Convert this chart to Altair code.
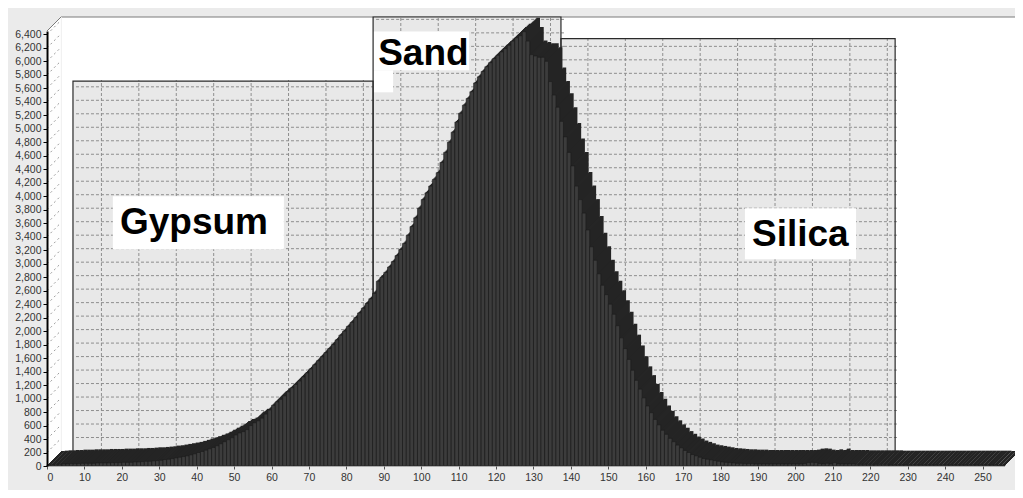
import altair as alt
import pandas as pd

# ---------------- data ----------------
levels = list(range(256))
counts = [
    15, 20, 25, 25, 30, 30, 35, 35, 35, 40,
    40, 40, 40, 45, 45, 45, 45, 50, 50, 50,
    55, 55, 55, 60, 60, 65, 70, 70, 75, 80,
    85, 95, 100, 110, 120, 130, 140, 150, 165, 180,
    200, 215, 235, 255, 275, 300, 330, 360, 390, 420,
    460, 490, 510, 540, 600, 640, 670, 710, 770, 830,
    900, 950, 990, 1040, 1100, 1160, 1210, 1260, 1320, 1380,
    1440, 1500, 1560, 1620, 1680, 1740, 1800, 1870, 1940, 2000,
    2070, 2130, 2200, 2270, 2340, 2410, 2480, 2560, 2740, 2800,
    2870, 2950, 3030, 3120, 3210, 3300, 3420, 3550, 3680, 3820,
    3950, 4050, 4150, 4250, 4350, 4500, 4650, 4800, 4950, 5100,
    5230, 5350, 5450, 5550, 5680, 5770, 5850, 5920, 5980, 6040,
    6090, 6140, 6190, 6240, 6300, 6350, 6380, 6440, 6300, 6100,
    6080, 6060, 6060, 6000, 5700, 5500, 5320, 5110, 4880, 4650,
    4450, 4150, 3950, 3750, 3500, 3250, 3050, 2850, 2680, 2540,
    2400, 2250, 2080, 1900, 1740, 1580, 1420, 1270, 1140, 1010,
    890, 790, 690, 610, 530, 470, 410, 360, 310, 270,
    230, 200, 170, 150, 130, 110, 100, 90, 80, 70,
    60, 55, 50, 45, 40, 40, 35, 35, 35, 30,
    30, 30, 30, 30, 30, 30, 30, 30, 30, 30,
    30, 30, 35, 50, 55, 50, 35, 30, 40, 30,
    50, 30, 30, 30, 30, 30, 25, 25, 25, 25,
    25, 25, 25, 25, 25, 20, 20, 20, 20, 20,
    20, 20, 20, 20, 20, 20, 20, 20, 20, 20,
    20, 20, 20, 20, 20, 20, 20, 20, 20, 20,
    20, 20, 20, 20, 15, 15,
]

region_names = ["Gypsum", "Sand", "Silica"]
region_start = [3.2, 83.4, 133.6]
region_end = [83.4, 133.6, 222.9]
region_top = [5500, 6450, 6130]

label_text = ["Gypsum", "Sand", "Silica"]
label_x = [19.5, 88.5, 188.4]
label_y = [3437, 5941, 3259]

label_bg_x = [17.6, 87.1, 87.1, 186.5]
label_bg_x2 = [63.3, 112.8, 92.5, 216.2]
label_bg_y = [3215, 5867, 5541, 3067]
label_bg_y2 = [4000, 6444, 5867, 3822]

y_ticks = list(range(0, 6401, 200))
x_ticks = list(range(0, 251, 10))

X_DOMAIN = [0, 256]
Y_DOMAIN = [0, 6450]
DEPTH = 14  # pixel depth of the 3D effect

# ---------------- tables ----------------
bars = pd.DataFrame({"x": levels, "x2": [v + 1 for v in levels], "y": counts, "y2": [0] * len(levels)})
wall = pd.DataFrame({"x": [X_DOMAIN[0]], "x2": [X_DOMAIN[1]], "y": [Y_DOMAIN[0]], "y2": [Y_DOMAIN[1]]})
regions = pd.DataFrame({"name": region_names, "x": region_start, "x2": region_end,
                        "y": [0] * 3, "y2": region_top})
grid_rows = []
for s, e, t in zip(region_start, region_end, region_top):
    for yt in y_ticks:
        if 0 < yt < t:
            grid_rows.append({"x": s, "x2": e, "y": yt, "y2": yt})
    for xt in x_ticks:
        if s < xt < e:
            grid_rows.append({"x": xt, "x2": xt, "y": 0, "y2": t})
grid = pd.DataFrame(grid_rows)
side_ticks = pd.DataFrame({"x": [0] * len(y_ticks), "x2": [0] * len(y_ticks), "y": y_ticks, "y2": y_ticks})
top_edge = pd.DataFrame({"x": [0], "x2": [0], "y": [Y_DOMAIN[1]], "y2": [Y_DOMAIN[1]]})
left_edge = pd.DataFrame({"x": [0], "x2": [0], "y": [Y_DOMAIN[0]], "y2": [Y_DOMAIN[1]]})
labels = pd.DataFrame({"text": label_text, "x": label_x, "y": label_y})
label_bgs = pd.DataFrame({"x": label_bg_x, "x2": label_bg_x2, "y": label_bg_y, "y2": label_bg_y2})

xs = alt.Scale(domain=X_DOMAIN, nice=False, zero=False)
ys = alt.Scale(domain=Y_DOMAIN, nice=False, zero=False)

x_axis = alt.Axis(values=x_ticks, title=None, grid=False, domain=False, tickSize=3,
                  tickColor="#555", labelPadding=3, labelFontSize=10.5,
                  labelFont="Liberation Sans", labelColor="#333", zindex=1,
                  labelExpr="format(datum.value, 'd')")
y_axis = alt.Axis(values=y_ticks, title=None, grid=False, domain=True,
                  domainColor="#000", domainWidth=2, tickColor="#000", tickSize=4,
                  labelPadding=2, labelFontSize=10.5, labelFont="Liberation Sans",
                  labelColor="#333", zindex=1,
                  labelExpr="format(datum.value, ',')")


def off(k):
    return dict(xOffset=k, x2Offset=k, yOffset=-k, y2Offset=-k)


def pos():
    return dict(
        x=alt.X("x", type="quantitative", scale=xs, axis=x_axis),
        x2=alt.X2("x2"),
        y=alt.Y("y", type="quantitative", scale=ys, axis=y_axis),
        y2=alt.Y2("y2"),
    )


layers = []

# back wall
layers.append(alt.Chart(wall).mark_rect(fill="white", stroke="#7a7a7a", strokeWidth=1,
                                        **off(DEPTH)).encode(**pos()))

# left side wall (stacked 1px slices)
for k in range(DEPTH, -1, -1):
    layers.append(alt.Chart(left_edge).mark_rule(color="white", strokeWidth=1.6, **off(k)).encode(**pos()))

# diagonal dashed ticks on the side wall
layers.append(alt.Chart(side_ticks).mark_rule(color="#9a9a9a", strokeDash=[2, 3], strokeWidth=1,
                                              x2Offset=DEPTH, y2Offset=-DEPTH).encode(**pos()))

# top diagonal edge of side wall
layers.append(alt.Chart(top_edge).mark_rule(color="#7a7a7a", strokeWidth=1,
                                            x2Offset=DEPTH, y2Offset=-DEPTH).encode(**pos()))

# region boxes (fill)
layers.append(alt.Chart(regions).mark_rect(fill="#e8e8e8", **off(DEPTH)).encode(**pos()))

# dashed grid inside regions
layers.append(alt.Chart(grid).mark_rule(color="#8e8e8e", strokeDash=[3, 2], strokeWidth=1,
                                        xOffset=DEPTH + 3, x2Offset=DEPTH + 3,
                                        yOffset=-DEPTH - 1, y2Offset=-DEPTH - 1).encode(**pos()))

# white label backgrounds
layers.append(alt.Chart(label_bgs).mark_rect(fill="white").encode(**pos()))

# region outlines
layers.append(alt.Chart(regions).mark_rect(fill=None, stroke="#2a2a2a", strokeWidth=1.2,
                                           **off(DEPTH)).encode(**pos()))

# 3D bars: depth slices back to front
for k in range(DEPTH, 0, -1):
    layers.append(alt.Chart(bars).mark_rect(fill="#252525", **off(k)).encode(**pos()))

# front faces
layers.append(alt.Chart(bars).mark_rect(fill="#3c3c3c", stroke="#1b1b1b", strokeWidth=0.6).encode(**pos()))

# region labels
layers.append(alt.Chart(labels).mark_text(align="left", baseline="alphabetic", font="Liberation Sans",
                                          fontWeight="bold", fontSize=37, color="black").encode(
    x=alt.X("x", type="quantitative", scale=xs, axis=x_axis),
    y=alt.Y("y", type="quantitative", scale=ys, axis=y_axis),
    text="text"))

chart = alt.layer(*layers).properties(
    width=958,
    height=435,
    autosize=alt.AutoSizeParams(type="none"),
    padding={"left": 39, "top": 23, "right": 10, "bottom": 24},
    background="#ebebeb",
).configure_view(stroke=None)

chart.save("out.html", embed_options={"renderer": "svg", "actions": False})
